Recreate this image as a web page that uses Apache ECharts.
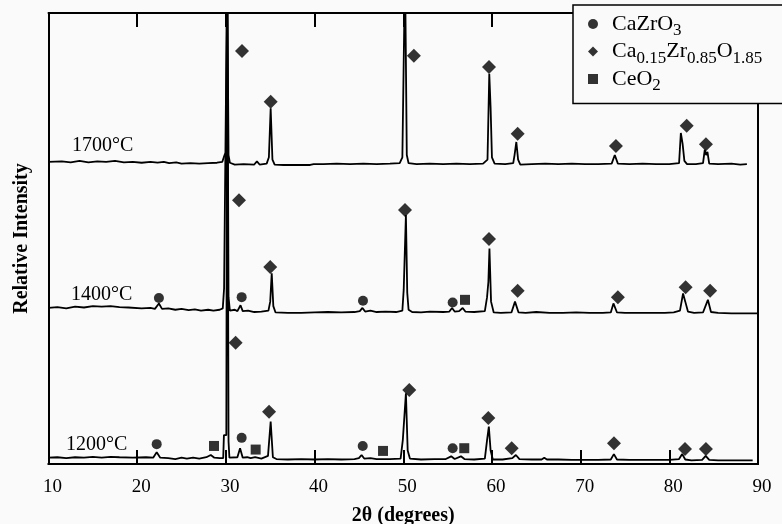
<!DOCTYPE html>
<html>
<head>
<meta charset="utf-8">
<script src="https://cdn.jsdelivr.net/npm/echarts@6/dist/echarts.min.js"></script>
<style>
  html, body { margin: 0; padding: 0; background: #fafafa; }
  #chart { width: 782px; height: 524px; }
</style>
</head>
<body>
<div id="chart"></div>
<script>
// x ticks (2θ, degrees)
const xTicks = [10, 20, 30, 40, 50, 60, 70, 80, 90];

// traces: [2θ, relative intensity] (arbitrary units, stacked by offset)
const trace1700 = [
    [10, 67.0], [11.5, 67.1], [12.5, 66.9], [13.5, 67.2], [14.5, 66.9], [15.5, 67.1], [16.5, 67.0],
    [17.5, 67.2], [18.5, 66.9], [19.5, 67.0], [20.5, 66.8], [21.5, 67.0], [22.3, 66.8], [23, 67.0],
    [23.6, 66.7], [24.4, 66.9], [25, 66.6], [26, 66.7], [27, 66.6], [28, 66.7], [29.0, 66.8],
    [29.6, 67.0], [29.85, 68.5], [30.0, 69], [30.15, 110], [30.3, 68.5], [30.45, 66.8], [31, 66.4],
    [32, 66.5], [33.2, 66.4], [33.5, 67.1], [33.8, 66.4], [34.6, 66.6], [34.85, 68], [35.05, 78.9],
    [35.25, 67.5], [35.5, 66.4], [36.5, 66.3], [38, 66.3], [39.5, 66.3], [39.7, 65.9], [39.9, 66.5],
    [41, 66.5], [42.5, 66.6], [44, 66.5], [45.5, 66.6], [47, 66.5], [48.5, 66.6], [49.6, 66.7],
    [49.9, 68], [50.2, 110], [50.4, 68.5], [50.6, 66.7], [51.5, 66.5], [53, 66.6], [54.5, 66.5],
    [56, 66.6], [57.5, 66.5], [59.0, 66.6], [59.5, 67.5], [59.7, 86.5], [59.85, 79], [60.0, 68],
    [60.3, 66.6], [61.5, 66.5], [62.4, 66.7], [62.55, 68.5], [62.75, 71.4], [62.95, 67.5], [63.2, 66.4],
    [64.5, 66.5], [66, 66.6], [67.5, 66.5], [69, 66.6], [70.5, 66.5], [72, 66.5], [73.5, 66.6],
    [73.85, 68.5], [74.2, 66.6], [75.5, 66.5], [77, 66.6], [78.5, 66.5], [80, 66.5], [81.1, 66.7],
    [81.3, 73.4], [81.5, 71], [81.7, 67.2], [82, 66.5], [83, 66.5], [83.8, 66.7], [84.0, 69.7],
    [84.15, 68.5], [84.3, 69.2], [84.5, 66.6], [85.5, 66.5], [87, 66.6], [88, 66.4], [88.75, 66.5]
];

const trace1400 = [
    [10, 34.6], [11, 34.8], [12, 34.5], [13, 34.9], [14, 34.7], [15, 35.0], [16, 34.9], [17, 35.0],
    [18, 34.8], [19, 34.7], [20.5, 34.5], [21.5, 34.6], [22.0, 34.4], [22.45, 35.6], [22.8, 34.4],
    [23.5, 34.5], [24.3, 34.2], [25, 34.4], [25.8, 34.1], [26.5, 34.3], [27.2, 34.0], [28, 34.2],
    [28.6, 34.0], [29.3, 34.2], [29.65, 34.5], [29.8, 39], [30.0, 39], [30.15, 110], [30.3, 37],
    [30.45, 34.0], [31, 34.2], [31.3, 33.9], [31.65, 35.2], [31.9, 33.9], [32.5, 34.0], [33.2, 33.7],
    [34, 33.8], [34.8, 34.0], [35.0, 36], [35.17, 42.3], [35.35, 35], [35.6, 33.6], [37, 33.5],
    [38.5, 33.5], [40, 33.6], [41.5, 33.7], [43, 33.6], [44.5, 33.7], [45.1, 33.9], [45.4, 34.6],
    [45.7, 33.8], [46.3, 34.0], [47, 33.7], [48, 33.8], [49.2, 33.7], [49.9, 34.0], [50.05, 38.6],
    [50.3, 55.2], [50.45, 38], [50.6, 34.2], [51, 33.7], [52, 33.6], [53, 33.8], [54.5, 33.7],
    [55.2, 33.8], [55.5, 34.6], [55.8, 33.8], [56.3, 33.9], [56.7, 34.6], [57.0, 33.8], [58, 33.7],
    [59.2, 33.9], [59.45, 37], [59.6, 40.4], [59.72, 47.8], [59.9, 36], [60.2, 33.6], [61, 33.5],
    [62.2, 33.6], [62.6, 36.0], [63.0, 33.6], [63.8, 33.5], [65, 33.7], [66.5, 33.5], [68, 33.5],
    [69.5, 33.6], [71, 33.5], [72.5, 33.5], [73.4, 33.6], [73.7, 35.6], [74.1, 33.6], [75, 33.5],
    [76.5, 33.5], [78, 33.5], [79.5, 33.5], [80.5, 33.6], [81.2, 34.0], [81.55, 37.8], [81.8, 36],
    [82.1, 33.8], [82.8, 33.5], [83.8, 33.6], [84.35, 36.4], [84.7, 33.7], [85.5, 33.5], [87, 33.4],
    [88.5, 33.4], [89.9, 33.4]
];

const trace1200 = [
    [10, 1.4], [11, 1.5], [12, 1.3], [13, 1.5], [14, 1.4], [15, 1.6], [16, 1.4], [17, 1.6], [18, 1.5],
    [19.5, 1.4], [21, 1.5], [21.8, 1.4], [22.2, 2.6], [22.6, 1.4], [23.5, 1.3], [24.3, 1.1], [25, 1.4],
    [25.6, 1.2], [26.3, 1.4], [27, 1.2], [27.8, 1.5], [28.3, 2.0], [28.7, 1.4], [29.3, 1.3], [29.7, 1.3],
    [29.78, 6.4], [30.05, 6.4], [30.15, 110], [30.3, 5], [30.4, 1.4], [30.6, 1.3], [31.3, 1.5],
    [31.6, 3.5], [31.9, 1.4], [32.4, 1.5], [32.8, 1.3], [33.3, 1.5], [34.0, 1.2], [34.75, 1.8],
    [35.05, 9.4], [35.3, 1.5], [35.7, 1.1], [37, 1.0], [38.5, 1.1], [40, 1.0], [41.5, 1.1], [43, 1.0],
    [44.5, 1.1], [45.0, 1.3], [45.3, 2.0], [45.6, 1.2], [46.3, 1.3], [47.0, 1.1], [48.5, 1.1],
    [49.7, 1.2], [49.95, 5.3], [50.3, 15.7], [50.5, 3], [50.75, 1.2], [52, 1.0], [53.5, 1.1],
    [54.8, 1.1], [55.4, 1.7], [55.8, 1.1], [56.5, 1.7], [56.9, 1.1], [58, 1.0], [59.2, 1.2],
    [59.45, 5.3], [59.65, 8.3], [59.85, 3], [60.1, 1.0], [61.2, 1.0], [62.3, 1.3], [62.7, 2.0],
    [63.1, 1.1], [64.5, 1.0], [65.6, 1.0], [65.9, 1.4], [66.2, 1.0], [67.5, 1.0], [69, 0.9],
    [70.5, 0.9], [72, 0.9], [73.4, 1.0], [73.75, 2.2], [74.1, 1.0], [75.5, 0.9], [77, 0.9],
    [78.5, 0.9], [80, 0.9], [81.1, 1.1], [81.45, 2.2], [81.8, 1.0], [82.5, 0.8], [83.7, 0.9],
    [84.1, 1.8], [84.5, 0.9], [85.5, 0.8], [87, 0.8], [88.5, 0.8], [89.4, 0.8]
];

// phase markers
const caZrO3Marks = [
    [22.45, 36.8], [31.78, 37.0], [45.46, 36.2], [55.57, 35.8],
    [22.2, 4.4], [31.78, 5.8], [45.43, 4.0], [55.57, 3.5]
];
const cszMarks = [
    [31.82, 91.6], [35.05, 80.3], [51.2, 90.5], [59.67, 88.0], [62.9, 73.2], [73.98, 70.5], [81.96, 75.0], [84.13, 70.9],
    [31.48, 58.5], [35.0, 43.7], [50.2, 56.3], [59.67, 49.9], [62.9, 38.4], [74.2, 37.0], [81.84, 39.2], [84.6, 38.4],
    [31.1, 26.9], [34.87, 11.6], [50.68, 16.4], [59.59, 10.2], [62.23, 3.5], [73.76, 4.6], [81.77, 3.3], [84.13, 3.3]
];
const ceO2Marks = [
    [56.96, 36.4],
    [28.66, 4.0], [33.36, 3.2], [47.72, 2.9], [56.88, 3.5]
];

const phaseNames = ['CaZrO3', 'Ca0.15Zr0.85O1.85', 'CeO2'];
const phaseLabels = ['{g|}{n|CaZrO}{s|3}', '{g|}{n|Ca}{s|0.15}{n|Zr}{s|0.85}{n|O}{s|1.85}', '{g|}{n|CeO}{s|2}'];
const tempLabels = ['1700°C', '1400°C', '1200°C'];

const serif = '"Liberation Serif", "DejaVu Serif", serif';
const chart = echarts.init(document.getElementById('chart'));

const traceLine = (data) => ({
    type: 'line', data: data, symbol: 'none', silent: true, z: 2,
    lineStyle: { color: '#000', width: 1.8 }
});

// fixed plot box, never shrunk to fit labels
const plotBox = { left: 48.5, right: 24, top: 13, bottom: 60, containLabel: false, outerBoundsMode: 'none' };

// bare axis used for the frame: line + inward ticks only
const frameX = (pos, grid) => ({
    type: 'value', gridIndex: grid, min: 10, max: 90, interval: 10, position: pos,
    axisLine: { show: true, onZero: false, lineStyle: { color: '#000', width: 2 } },
    axisTick: { show: true, inside: true, length: 14, lineStyle: { color: '#000', width: 2 } },
    axisLabel: { show: false },
    splitLine: { show: false }
});

const option = {
    animation: false,
    backgroundColor: '#fafafa',
    grid: [Object.assign({}, plotBox), Object.assign({}, plotBox)],
    legend: {
        left: 573, top: 5,
        orient: 'vertical',
        padding: [7, 40, 9, 15],
        itemGap: 0,
        itemWidth: 10, itemHeight: 10,
        backgroundColor: '#fafafa',
        borderColor: '#000', borderWidth: 1.5,
        data: [
            { name: phaseNames[0], icon: 'circle' },
            { name: phaseNames[1], icon: 'diamond' },
            { name: phaseNames[2], icon: 'rect' }
        ],
        formatter: name => phaseLabels[phaseNames.indexOf(name)],
        textStyle: {
            color: '#000', fontFamily: serif, fontSize: 22, lineHeight: 24,
            rich: {
                g: { width: 9, lineHeight: 24 },
                n: { fontFamily: serif, fontSize: 22, lineHeight: 24, color: '#000' },
                s: { fontFamily: serif, fontSize: 17, height: 6, lineHeight: 10, padding: [14, 0, 0, 0], color: '#000' }
            }
        }
    },
    xAxis: [{
        type: 'value', gridIndex: 0, min: 10, max: 90, interval: 10, position: 'bottom',
        name: '2θ (degrees)', nameLocation: 'middle', nameGap: 42,
        nameTextStyle: { fontFamily: serif, fontSize: 20, fontWeight: 'bold', color: '#000' },
        axisLine: { show: true, onZero: false, lineStyle: { color: '#000', width: 2 } },
        axisTick: { show: false },
        axisLabel: { fontFamily: serif, fontSize: 19, color: '#000', margin: 14, padding: [0, 0, 0, 8],
            formatter: v => xTicks.includes(v) ? String(v) : '' },
        splitLine: { show: false }
    }, frameX('top', 0), frameX('bottom', 1)],
    yAxis: [{
        type: 'value', gridIndex: 0, min: 0, max: 100,
        name: 'Relative Intensity', nameLocation: 'middle', nameGap: 17,
        nameTextStyle: { fontFamily: serif, fontSize: 20, fontWeight: 'bold', color: '#000' },
        axisLine: { show: true, onZero: false, lineStyle: { color: '#000', width: 2 } },
        axisTick: { show: false },
        axisLabel: { show: false },
        splitLine: { show: false }
    }, {
        type: 'value', gridIndex: 0, min: 0, max: 100, position: 'right',
        axisLine: { show: true, onZero: false, lineStyle: { color: '#000', width: 2 } },
        axisTick: { show: false },
        axisLabel: { show: false },
        splitLine: { show: false }
    }, {
        type: 'value', gridIndex: 1, min: 0, max: 100, show: false
    }],
    graphic: [
        { type: 'text', left: 72, top: 136, style: { text: tempLabels[0], font: '20px ' + serif, fill: '#000' } },
        { type: 'text', left: 71, top: 285, style: { text: tempLabels[1], font: '20px ' + serif, fill: '#000' } },
        { type: 'text', left: 66, top: 435, style: { text: tempLabels[2], font: '20px ' + serif, fill: '#000' } }
    ],
    series: [
        traceLine(trace1700),
        traceLine(trace1400),
        traceLine(trace1200),
        { type: 'scatter', name: phaseNames[0], data: caZrO3Marks, symbol: 'circle', symbolSize: 10,
          itemStyle: { color: '#000' }, z: 5 },
        { type: 'scatter', name: phaseNames[1], data: cszMarks, symbol: 'diamond', symbolSize: 14,
          itemStyle: { color: '#000' }, z: 5 },
        { type: 'scatter', name: phaseNames[2], data: ceO2Marks, symbol: 'rect', symbolSize: 10,
          itemStyle: { color: '#000' }, z: 5 }
    ]
};

chart.setOption(option);
</script>
</body>
</html>
